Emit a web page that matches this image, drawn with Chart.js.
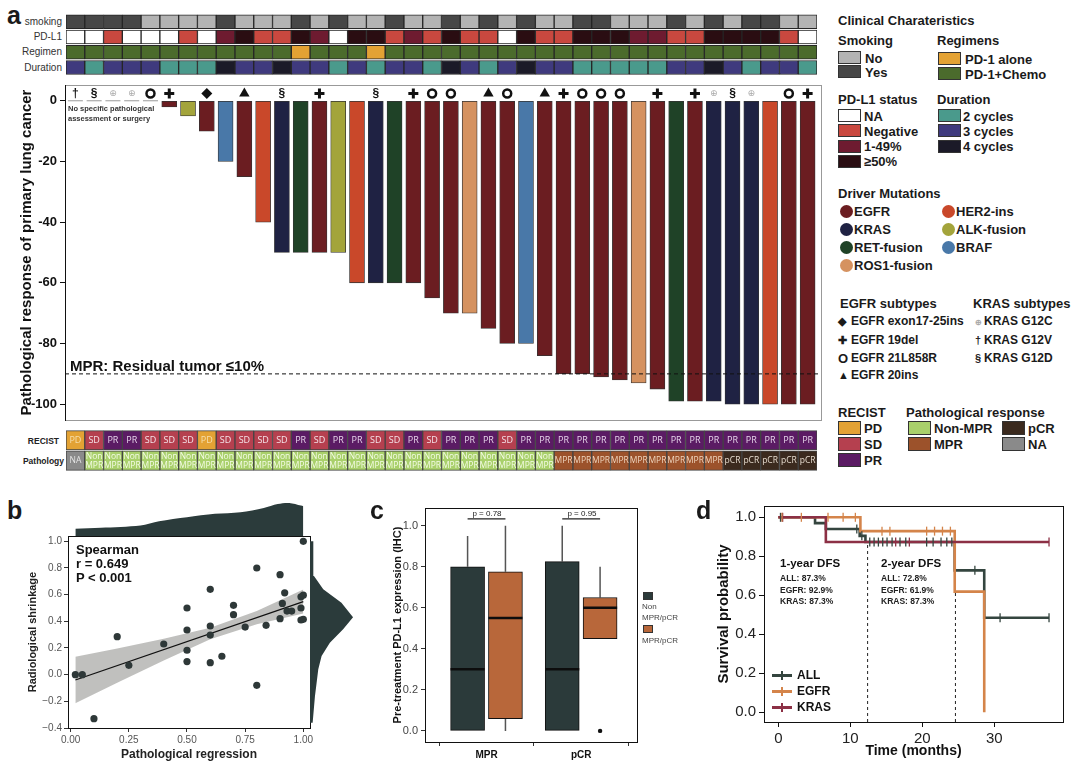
<!DOCTYPE html>
<html>
<head>
<meta charset="utf-8">
<script src="https://cdn.jsdelivr.net/npm/chart.js@4.4.1/dist/chart.umd.min.js"></script>
<style>
  body { margin: 0; width: 1080px; height: 766px; position: relative; overflow: hidden; background: #fff;
         font-family: "Liberation Sans", Arial, sans-serif; }
  canvas { position: absolute; }
  .t { position: absolute; white-space: nowrap; line-height: 1; color: #1a1a1a; }
  .sw { position: absolute; box-sizing: border-box; border: 1.5px solid #333; }
  .box { position: absolute; box-sizing: border-box; border: 1px solid #999; }
</style>
</head>
<body>
<script>
// ---------- panel a : data ----------
const patients = ['P1','P2','P3','P4','P5','P6','P7','P8','P9','P10','P11','P12','P13','P14','P15','P16','P17','P18','P19','P20',
  'P21','P22','P23','P24','P25','P26','P27','P28','P29','P30','P31','P32','P33','P34','P35','P36','P37','P38','P39','P40'];
const smoking = ['Yes','Yes','Yes','Yes','No','No','No','No','Yes','No','No','No','Yes','No','Yes','No','No','Yes',
  'No','No','Yes','No','Yes','No','Yes','No','No','Yes','Yes','No','No','No','Yes','No','Yes','No','Yes','Yes','No','No'];
const pdl1 = ['NA','NA','Neg','NA','NA','NA','Neg','NA','Low','High','Neg','Neg','High','Low','NA','High','High','Neg',
  'Low','Neg','High','Neg','Neg','NA','High','Neg','Neg','High','High','High','Low','Low','Neg','Neg','High','High','High','High','Neg','NA'];
const regimen = ['Chemo','Chemo','Chemo','Chemo','Chemo','Chemo','Chemo','Chemo','Chemo','Chemo','Chemo','Chemo','Alone','Chemo',
  'Chemo','Chemo','Alone','Chemo','Chemo','Chemo','Chemo','Chemo','Chemo','Chemo','Chemo','Chemo','Chemo','Chemo','Chemo','Chemo',
  'Chemo','Chemo','Chemo','Chemo','Chemo','Chemo','Chemo','Chemo','Chemo','Chemo'];
const duration = [3,2,3,3,3,2,2,2,4,3,3,4,3,3,2,3,2,3, 3,2,4,3,2,3,4,3,3,2,2,2,2,2,3,3,4,3,2,3,3,2];
const driver = ['KRAS','KRAS','KRAS','KRAS','EGFR','EGFR','ALK','EGFR','BRAF','EGFR','HER2','KRAS','RET','EGFR','ALK','HER2',
  'KRAS','RET','EGFR','EGFR','EGFR','ROS1','EGFR','EGFR','BRAF','EGFR','EGFR','EGFR','EGFR','EGFR','ROS1','EGFR','RET','EGFR',
  'KRAS','KRAS','KRAS','HER2','EGFR','EGFR'];
const subtype = ['G12V','G12D','G12C','G12C','21L858R','19del','','exon17-25ins','','20ins','','G12D','','19del','','','G12D','',
  '19del','21L858R','21L858R','','20ins','21L858R','','20ins','19del','21L858R','21L858R','21L858R','','19del','','19del',
  'G12C','G12D','G12C','','21L858R','19del'];
const response = [null,null,null,null,null,-2,-5,-10,-20,-25,-40,-50,-50,-50,-50,-60,-60,-60,-60,-65,-70,-70,-75,-80,-80,-84,
  -90,-90,-91,-92,-93,-95,-99,-99,-99,-100,-100,-100,-100,-100];
const recist = ['PD','SD','PR','PR','SD','SD','SD','PD','SD','SD','SD','SD','PR','SD','PR','PR','SD','SD',
  'PR','SD','PR','PR','PR','SD','PR','PR','PR','PR','PR','PR','PR','PR','PR','PR','PR','PR','PR','PR','PR','PR'];
const pathology = ['NA','Non-MPR','Non-MPR','Non-MPR','Non-MPR','Non-MPR','Non-MPR','Non-MPR','Non-MPR','Non-MPR','Non-MPR',
  'Non-MPR','Non-MPR','Non-MPR','Non-MPR','Non-MPR','Non-MPR','Non-MPR','Non-MPR','Non-MPR','Non-MPR','Non-MPR','Non-MPR',
  'Non-MPR','Non-MPR','Non-MPR','MPR','MPR','MPR','MPR','MPR','MPR','MPR','MPR','MPR','pCR','pCR','pCR','pCR','pCR'];
const respTicks = [0, -20, -40, -60, -80, -100];
const mprCut = -90;

// ---------- panel b : data ----------
const pathReg = [0.02,0.05,0.10,0.20,0.25,0.40,0.50,0.50,0.50,0.50,0.60,0.60,0.60,0.60,0.65,0.70,0.70,0.75,0.80,0.80,0.84,
  0.90,0.90,0.91,0.92,0.93,0.95,0.99,0.99,1.00,1.00,0.99,1.00];
const radShrink = [0.00,0.00,-0.33,0.285,0.07,0.23,0.50,0.335,0.183,0.098,0.64,0.365,0.297,0.09,0.138,0.52,0.45,0.357,0.80,
  -0.08,0.37,0.75,0.42,0.534,0.614,0.477,0.477,0.50,0.584,0.596,1.00,0.41,0.415];
const fitX = [0.02, 1.0];
const fitY = [-0.04, 0.548];
const bandX = [0.02, 0.2, 0.4, 0.6, 0.8, 1.0];
const bandHi = [0.135, 0.196, 0.269, 0.351, 0.478, 0.638];
const bandLo = [-0.215, -0.06, 0.107, 0.265, 0.378, 0.458];
const topDensX = [0.02,0.13,0.30,0.38,0.50,0.62,0.73,0.83,0.89,0.94,0.99,1.0];
const topDens = [22,25,32,45,57,67,72,85,97,100,92,90];
const sideDensY = [-0.36,-0.16,-0.06,0.04,0.14,0.24,0.34,0.43,0.54,0.64,0.74,0.9,1.0];
const sideDens = [8,15,20,25,35,60,100,130,95,40,12,10,10];
const bTicksX = [0, 0.25, 0.5, 0.75, 1];
const bTicksY = [-0.4, -0.2, 0, 0.2, 0.4, 0.6, 0.8, 1.0];

// ---------- panel c : data ----------
const boxGroups = ['MPR', 'pCR'];
// min, q1, median, q3, max
const nonStats = [[0, 0, 0.30, 0.80, 0.95], [0, 0, 0.30, 0.825, 1.0]];
const respStats = [[0, 0.06, 0.55, 0.775, 1.0], [0.45, 0.45, 0.60, 0.65, 0.80]];
const respOutliers = [[], [0.0]];
const cTicks = [0, 0.2, 0.4, 0.6, 0.8, 1.0];

// ---------- panel d : data ----------
const allT = [0, 5.1, 6.6, 11.3, 12.1, 24.5, 28.6, 37.6];
const allS = [1, 0.97, 0.94, 0.905, 0.873, 0.728, 0.485, 0.485];
const egfrT = [0, 11.4, 24.5, 28.6];
const egfrS = [1, 0.929, 0.619, 0];
const krasT = [0, 6.6, 37.6];
const krasS = [1, 0.873, 0.873];
const allCensT = [0.3, 10.9, 11.6, 12.7, 13.3, 13.9, 14.5, 15.1, 15.8, 16.9, 17.7, 20.6, 21.5, 22.6, 23.4, 24.1, 27.3, 30.8, 37.6];
const allCensS = [1, 0.94, 0.905, 0.873, 0.873, 0.873, 0.873, 0.873, 0.873, 0.873, 0.873, 0.873, 0.873, 0.873, 0.873, 0.873, 0.728, 0.485, 0.485];
const egfrCensT = [0.5, 3.2, 6.9, 9.0, 10.7, 14.4, 15.5, 20.6, 21.7, 22.8, 23.9];
const egfrCensS = [1, 1, 1, 1, 1, 0.929, 0.929, 0.929, 0.929, 0.929, 0.929];
const krasCensT = [0.6, 16.3, 18.2, 37.6];
const krasCensS = [1, 0.873, 0.873, 0.873];
const dfsMarks = [12.4, 24.6];
const dfsMarkTop = [0.873, 0.93];
const dTicksX = [0, 10, 20, 30];
const dTicksY = [0, 0.2, 0.4, 0.6, 0.8, 1.0];

// ---------- colours ----------
const smokeCol = { Yes: '#474747', No: '#b3b3b3' };
const pdl1Col = { NA: '#ffffff', Neg: '#c9483f', Low: '#6e1b30', High: '#2a0d12' };
const regCol = { Alone: '#e3a234', Chemo: '#4b6b2c' };
const durCol = { 2: '#4a9a8c', 3: '#3f3a7e', 4: '#1b1a28' };
const drvCol = { EGFR: '#6b1d21', KRAS: '#1f2243', RET: '#1f4227', HER2: '#c9482a', ALK: '#a3a43b', BRAF: '#4978a8', ROS1: '#d59260' };
const recCol = { PD: '#e3a234', SD: '#b5404f', PR: '#5b1b64' };
const pathCol = { 'Non-MPR': '#a9d06b', MPR: '#9c522b', pCR: '#3b2a1e', NA: '#8a8a8a' };
const boxNon = '#2b3a3a', boxResp = '#b8673a';
const kmAll = '#34453f', kmEgfr = '#d4844a', kmKras = '#8c3045';

Chart.defaults.font.family = '"Liberation Sans", Arial, sans-serif';
Chart.defaults.animation = false;
Chart.defaults.responsive = false;
Chart.defaults.layout.autoPadding = false;
Chart.defaults.plugins.legend.display = false;
Chart.defaults.plugins.tooltip.enabled = false;

// ---------- helpers ----------
function cv(x, y, w, h) {
  const c = document.createElement('canvas');
  c.width = w; c.height = h;
  c.style.left = x + 'px'; c.style.top = y + 'px';
  document.body.appendChild(c);
  return c;
}
function txt(s, x, y, size, o = {}) {
  const d = document.createElement('div');
  d.className = 't';
  d.innerHTML = s;
  d.style.left = x + 'px'; d.style.top = y + 'px';
  d.style.fontSize = size + 'px';
  d.style.fontWeight = o.w || 'bold';
  if (o.c) d.style.color = o.c;
  d.style.transform = o.right ? 'translate(-100%,-50%)' : (o.center ? 'translate(-50%,-50%)' : 'translateY(-50%)');
  document.body.appendChild(d);
  return d;
}
function sw(x, y, w, h, col, round) {
  const d = document.createElement('div');
  d.className = 'sw';
  Object.assign(d.style, { left: x + 'px', top: y + 'px', width: w + 'px', height: h + 'px', background: col });
  if (round) { d.style.borderRadius = '50%'; d.style.border = 'none'; }
  document.body.appendChild(d);
  return d;
}
// pin axis sizes so every chart area lands exactly where the reference has it
const fixW = w => s => { s.width = w; s.paddingTop = 0; s.paddingBottom = 0; };
const fixH = h => s => { s.height = h; s.paddingLeft = 0; s.paddingRight = 0; };
const setTicks = vals => s => { s.ticks = vals.map(v => ({ value: v })); };
const pts = (xs, ys) => xs.map((x, i) => ({ x, y: ys[i] }));
const frameAxes = {
  x2: { type: 'linear', axis: 'x', position: 'top', afterFit: fixH(0), ticks: { display: false }, grid: { display: false }, border: { color: '#111' } },
  y2: { type: 'linear', axis: 'y', position: 'right', afterFit: fixW(0), ticks: { display: false }, grid: { display: false }, border: { color: '#111' } }
};

// text written inside floating-bar cells, positioned through the chart's scales
const cellTextPlugin = {
  id: 'cellText',
  afterDatasetsDraw(chart) {
    const { ctx, scales: { x, y } } = chart;
    chart.data.datasets.forEach(ds => {
      if (!ds.cellText) return;
      ctx.save();
      ctx.font = ds.cellFont; ctx.textAlign = 'center'; ctx.textBaseline = 'middle';
      ds.cellText.forEach((t, i) => {
        const lines = t.split('\n');
        const cx = x.getPixelForValue(i);
        const cy = y.getPixelForValue((ds.data[i][0] + ds.data[i][1]) / 2);
        ctx.fillStyle = ds.cellColor[i];
        lines.forEach((ln, k) => ctx.fillText(ln, cx, cy + (k - (lines.length - 1) / 2) * 9));
      });
      ctx.restore();
    });
  }
};

// ================= PANEL A =================
txt('a', 7, 15, 25);

// heatmap rows
const hmRows = [smoking.map(v => smokeCol[v]), pdl1.map(v => pdl1Col[v]), regimen.map(v => regCol[v]), duration.map(v => durCol[v])];
['smoking', 'PD-L1', 'Regimen', 'Duration'].forEach((l, r) => txt(l, 62, 22 + r * 15.2, 10, { right: true, w: 'normal', c: '#333' }));
new Chart(cv(66, 14, 751, 61), {
  type: 'bar',
  data: {
    labels: patients,
    datasets: hmRows.map((cols, r) => ({
      data: cols.map(() => [r + 0.05, r + 0.97]), backgroundColor: cols, borderColor: '#262626', borderWidth: 1,
      borderSkipped: false, grouped: false, barPercentage: 1, categoryPercentage: 1
    }))
  },
  options: { layout: { padding: 0 }, scales: { x: { display: false }, y: { display: false, min: 0, max: 4, reverse: true } } }
});

// waterfall
const barPts = [], barCols = [];
response.forEach((v, i) => { if (v !== null) { barPts.push({ x: i, y: v }); barCols.push(drvCol[driver[i]]); } });
const shapeOf = { '19del': 'cross', '21L858R': 'circle', '20ins': 'triangle', 'exon17-25ins': 'rectRot' };
const glyphOf = { G12V: '†', G12D: '§', G12C: '⊕' };
const symPts = [], symStyle = [], symRad = [], symBg = [], symBw = [];
subtype.forEach((s, i) => {
  if (!shapeOf[s]) return;
  symPts.push({ x: i, y: 2.4 });
  symStyle.push(shapeOf[s]);
  symRad.push({ cross: 5, circle: 4, triangle: 6, rectRot: 5.5 }[shapeOf[s]]);
  symBg.push(shapeOf[s] === 'circle' ? '#fff' : '#111');
  symBw.push({ cross: 3, circle: 2.5, triangle: 0, rectRot: 0 }[shapeOf[s]]);
});
const noSurgery = response.map((v, i) => v === null ? { x: i, y: 0 } : null).filter(p => p);
const glyphPlugin = {
  id: 'glyphs',
  afterDatasetsDraw(chart) {
    const { ctx, scales: { x, y } } = chart;
    ctx.save(); ctx.textAlign = 'center'; ctx.textBaseline = 'middle';
    subtype.forEach((s, i) => {
      const g = glyphOf[s];
      if (!g) return;
      ctx.font = g === '⊕' ? '9px "DejaVu Sans"' : 'bold 12px "Liberation Sans"';
      ctx.fillStyle = g === '⊕' ? '#aaa' : '#111';
      ctx.fillText(g, x.getPixelForValue(i), y.getPixelForValue(2.4));
    });
    ctx.restore();
  }
};
const box = document.createElement('div');
box.className = 'box';
Object.assign(box.style, { left: '65px', top: '85px', width: '757px', height: '336px' });
document.body.appendChild(box);
new Chart(cv(0, 80, 830, 345), {
  type: 'bar',
  data: {
    datasets: [
      { type: 'scatter', data: symPts, pointStyle: symStyle, pointRadius: symRad, pointBackgroundColor: symBg,
        pointBorderColor: '#111', pointBorderWidth: symBw },
      { type: 'scatter', data: noSurgery, pointStyle: 'line', pointRadius: 7.5, pointBorderColor: '#999', pointBorderWidth: 1 },
      { type: 'line', data: [{ x: -0.553, y: mprCut }, { x: 39.713, y: mprCut }], borderColor: '#111', borderWidth: 1,
        borderDash: [4, 3], pointRadius: 0 },
      { type: 'bar', data: barPts, backgroundColor: barCols, borderColor: '#333', borderWidth: 0.8, borderSkipped: false,
        barThickness: 15 }
    ]
  },
  options: {
    layout: { padding: { top: 5, right: 9, bottom: 5, left: 0 } },
    scales: {
      x: { type: 'linear', display: false, offset: false, min: -0.553, max: 39.713 },
      y: {
        min: -105.2, max: 5.2, afterFit: fixW(65), afterBuildTicks: setTicks(respTicks),
        ticks: { font: { size: 13, weight: 'bold' }, color: '#111', padding: 3 },
        grid: { drawOnChartArea: false, tickLength: 5, color: '#111' },
        border: { color: '#111' },
        title: { display: true, text: 'Pathological response of primary lung cancer', color: '#111',
          font: { size: 15, weight: 'bold' }, padding: { top: 18, bottom: 0 } }
      }
    }
  },
  plugins: [glyphPlugin]
});
txt('No specific pathological', 68, 109, 7.5, { c: '#333' });
txt('assessment or surgery', 68, 119, 7.5, { c: '#333' });
txt('MPR: Residual tumor ≤10%', 70, 365, 15, { c: '#111' });

// RECIST / pathology rows
txt('RECIST', 59, 440.5, 8.5, { right: true, c: '#222' });
txt('Pathology', 64, 460.5, 8.5, { right: true, c: '#222' });
const recTextCol = { PD: '#f6dfae', SD: '#f6e4ea', PR: '#e6d4ea' };
const pathTextCol = { 'Non-MPR': '#f4fbe6', MPR: '#f0d6bf', pCR: '#e6dccf', NA: '#e4e4e4' };
new Chart(cv(66, 430, 751, 41), {
  type: 'bar',
  data: {
    labels: patients,
    datasets: [
      { data: recist.map(() => [0.03, 0.97]), backgroundColor: recist.map(v => recCol[v]), cellText: recist,
        cellColor: recist.map(v => recTextCol[v]), cellFont: '9px "Open Sans"' },
      { data: pathology.map(() => [1.02, 1.97]), backgroundColor: pathology.map(v => pathCol[v]),
        cellText: pathology.map(v => v === 'Non-MPR' ? 'Non\nMPR' : v), cellColor: pathology.map(v => pathTextCol[v]),
        cellFont: '8.5px "Open Sans"' }
    ].map(d => Object.assign(d, { borderColor: '#444', borderWidth: 1, borderSkipped: false, grouped: false,
      barPercentage: 1, categoryPercentage: 1 }))
  },
  options: { layout: { padding: 0 }, scales: { x: { display: false }, y: { display: false, min: 0, max: 2, reverse: true } } },
  plugins: [cellTextPlugin]
});

// legend column
const LX = 838, LX2 = 937;
txt('Clinical Charateristics', LX, 20, 13);
txt('Smoking', LX, 40, 13);
sw(LX, 51, 23, 13, smokeCol.No); txt('No', LX + 27, 57.5, 13);
sw(LX, 65, 23, 13, smokeCol.Yes); txt('Yes', LX + 27, 71.5, 13);
txt('Regimens', LX2, 40, 13);
sw(LX2 + 1, 52, 23, 13, regCol.Alone); txt('PD-1 alone', LX2 + 28, 58.5, 13);
sw(LX2 + 1, 67, 23, 13, regCol.Chemo); txt('PD-1+Chemo', LX2 + 28, 73.5, 13);
txt('PD-L1 status', LX, 99, 13);
[['NA', 'NA'], ['Negative', 'Neg'], ['1-49%', 'Low'], ['≥50%', 'High']].forEach(([l, k], i) => {
  sw(LX, 109 + i * 15.3, 23, 13, pdl1Col[k]); txt(l, LX + 26, 115.5 + i * 15.3, 13);
});
txt('Duration', LX2, 99, 13);
['2 cycles', '3 cycles', '4 cycles'].forEach((l, i) => {
  sw(LX2 + 1, 109 + i * 15.3, 23, 13, durCol[i + 2]); txt(l, LX2 + 26, 115.5 + i * 15.3, 13);
});
txt('Driver Mutations', LX, 193, 13);
[['EGFR', LX, 211], ['HER2-ins', 940, 211], ['KRAS', LX, 229], ['ALK-fusion', 940, 229], ['RET-fusion', LX, 247],
 ['BRAF', 940, 247], ['ROS1-fusion', LX, 265]].forEach(([l, x, y]) => {
  const k = l.split('-')[0];
  sw(x + 2, y - 6.5, 13, 13, drvCol[k], true); txt(l, x + 16, y, 13);
});
txt('EGFR subtypes', LX + 2, 303, 13);
txt('KRAS subtypes', 973, 303, 13);
[['◆', 'EGFR exon17-25ins', 321], ['✚', 'EGFR 19del', 340], ['<b style="font-size:13px">O</b>', 'EGFR 21L858R', 358],
 ['▲', 'EGFR 20ins', 375]].forEach(([g, l, y]) => { txt(g, LX, y, 11); txt(l, LX + 13, y, 12); });
[['<span style="color:#aaa;font-size:8px">⊕</span>', 'KRAS G12C', 321], ['†', 'KRAS G12V', 340], ['§', 'KRAS G12D', 358]]
  .forEach(([g, l, y]) => { txt(g, 975, y, 11); txt(l, 984, y, 12); });
txt('RECIST', LX, 412, 13);
[['PD', 428], ['SD', 444], ['PR', 460]].forEach(([l, y]) => { sw(LX, y - 7, 23, 14, recCol[l]); txt(l, LX + 26, y, 13); });
txt('Pathological response', 906, 412, 13);
sw(908, 421, 23, 14, pathCol['Non-MPR']); txt('Non-MPR', 934, 428, 13);
sw(908, 437, 23, 14, pathCol.MPR); txt('MPR', 934, 444, 13);
sw(1002, 421, 23, 14, pathCol.pCR); txt('pCR', 1028, 428, 13);
sw(1002, 437, 23, 14, pathCol.NA); txt('NA', 1028, 444, 13);

// ================= PANEL B =================
txt('b', 7, 510, 25);
new Chart(cv(0, 526, 330, 240), {
  type: 'scatter',
  data: {
    datasets: [
      { data: pts(pathReg, radShrink), pointRadius: 3.6, pointBackgroundColor: '#2e3838', pointBorderWidth: 0 },
      { type: 'line', data: pts(fitX, fitY), borderColor: '#111', borderWidth: 1.3, pointRadius: 0 },
      { type: 'line', data: pts(bandX, bandHi), borderWidth: 0, pointRadius: 0, fill: '+1', backgroundColor: 'rgba(150,150,146,0.6)' },
      { type: 'line', data: pts(bandX, bandLo), borderWidth: 0, pointRadius: 0 }
    ]
  },
  options: {
    layout: { padding: { top: 10, right: 20, bottom: 0, left: 0 } },
    scales: {
      x: { type: 'linear', min: -0.0116, max: 1.0288, afterFit: fixH(38), afterBuildTicks: setTicks(bTicksX),
        ticks: { callback: v => v.toFixed(2), font: { size: 10 }, color: '#555', padding: 2 },
        grid: { drawOnChartArea: false, tickLength: 4, color: '#333' }, border: { color: '#111' },
        title: { display: true, text: 'Pathological regression', color: '#222', font: { size: 12, weight: 'bold' }, padding: { top: 0, bottom: 4 } } },
      y: { min: -0.4, max: 1.04, afterFit: fixW(68), afterBuildTicks: setTicks(bTicksY),
        ticks: { callback: v => v.toFixed(1).replace('-', '−'), font: { size: 10 }, color: '#555', padding: 2 },
        grid: { drawOnChartArea: false, tickLength: 4, color: '#333' }, border: { color: '#111' },
        title: { display: true, text: 'Radiological shrinkage', color: '#222', font: { size: 11, weight: 'bold' }, padding: { top: 26, bottom: 0 } } },
      ...frameAxes
    }
  }
});
new Chart(cv(68, 500, 242, 36), {
  type: 'line',
  data: { datasets: [{ data: pts(topDensX, topDens), fill: 'origin', backgroundColor: '#2b3b3b', borderWidth: 0, pointRadius: 0, tension: 0.3 }] },
  options: { layout: { padding: 0 }, scales: { x: { type: 'linear', display: false, min: -0.0116, max: 1.0288 }, y: { display: false, min: 0, max: 109 } } }
});
const sideShape = [{ x: 0, y: sideDensY[0] }, ...pts(sideDens, sideDensY), { x: 0, y: sideDensY[sideDensY.length - 1] }];
new Chart(cv(310, 536, 50, 192), {
  type: 'line',
  data: { datasets: [{ data: sideShape, fill: 'shape', backgroundColor: '#2b3b3b', borderWidth: 0, pointRadius: 0 }] },
  options: { layout: { padding: 0 }, scales: { x: { type: 'linear', display: false, min: 0, max: 151 }, y: { display: false, min: -0.4, max: 1.04 } } }
});
txt('Spearman', 76, 549, 13, { c: '#111' });
txt('r = 0.649', 76, 563, 13, { c: '#111' });
txt('P &lt; 0.001', 76, 577, 13, { c: '#111' });

// ================= PANEL C =================
txt('c', 370, 510, 25);
const off = 0.2, half = 0.18;
const seg = list => list.flatMap(([x1, y1, x2, y2]) => [{ x: x1, y: y1 }, { x: x2, y: y2 }, { x: x2, y: null }]);
function boxSets(stats, dx, col) {
  return [
    { type: 'line', data: seg(stats.map((s, g) => [g + 1 + dx - half, s[2], g + 1 + dx + half, s[2]])), borderColor: '#0d0d0d',
      borderWidth: 2.5, pointRadius: 0, spanGaps: false },
    { type: 'bar', data: stats.map((s, g) => ({ x: g + 1 + dx, y: [s[1], s[3]] })), backgroundColor: col, borderColor: '#111',
      borderWidth: 1, borderSkipped: false, grouped: false, barThickness: 34 },
    { type: 'line', data: seg(stats.flatMap((s, g) => [[g + 1 + dx, s[3], g + 1 + dx, s[4]], [g + 1 + dx, s[0], g + 1 + dx, s[1]]])),
      borderColor: '#555', borderWidth: 1.5, pointRadius: 0, spanGaps: false }
  ];
}
new Chart(cv(360, 500, 285, 266), {
  type: 'bar',
  data: {
    datasets: [
      { type: 'scatter', data: respOutliers.flatMap((o, g) => o.map(v => ({ x: g + 1 + off, y: v }))), pointRadius: 2.2,
        pointBackgroundColor: '#111', pointBorderWidth: 0 },
      { type: 'line', data: seg(boxGroups.map((b, g) => [g + 1 - off, 1.033, g + 1 + off, 1.033])), borderColor: '#222',
        borderWidth: 1.2, pointRadius: 0, spanGaps: false },
      ...boxSets(nonStats, -off, boxNon),
      ...boxSets(respStats, off, boxResp)
    ]
  },
  options: {
    layout: { padding: { top: 8, right: 8, bottom: 0, left: 0 } },
    scales: {
      x: { type: 'linear', offset: false, min: 0.35, max: 2.59, afterFit: fixH(24), afterBuildTicks: setTicks([1, 2]),
        ticks: { callback: v => boxGroups[v - 1], font: { size: 10, weight: 'bold' }, color: '#111', padding: 3 },
        grid: { drawOnChartArea: false, tickLength: 4, color: '#333' }, border: { color: '#111' } },
      y: { min: -0.054, max: 1.086, afterFit: fixW(65), afterBuildTicks: setTicks(cTicks),
        ticks: { callback: v => v.toFixed(1), font: { size: 11 }, color: '#444', padding: 3 },
        grid: { drawOnChartArea: false, tickLength: 4, color: '#333' }, border: { color: '#111' },
        title: { display: true, text: 'Pre-treatment PD-L1 expression (IHC)', color: '#111', font: { size: 11, weight: 'bold' },
          padding: { top: 31, bottom: 0 } } },
      ...frameAxes
    }
  }
});
txt('p = 0.78', 487, 514, 8, { center: true, w: 'normal', c: '#222' });
txt('p = 0.95', 582, 514, 8, { center: true, w: 'normal', c: '#222' });
sw(643, 592, 10, 8, boxNon); txt('Non', 642, 607, 8, { w: 'normal', c: '#444' });
txt('MPR/pCR', 642, 618, 8, { w: 'normal', c: '#444' });
sw(643, 625, 10, 8, boxResp); txt('MPR/pCR', 642, 641, 8, { w: 'normal', c: '#444' });

// ================= PANEL D =================
txt('d', 696, 510, 25);
const censor = (xs, ys, col) => ({ type: 'scatter', data: pts(xs, ys), pointStyle: 'line', rotation: 90, pointRadius: 4.5,
  pointBorderColor: col, pointBorderWidth: 1.3 });
// 'before' in Chart.js = run flat to the next time, then drop (Kaplan-Meier step)
const km = (xs, ys, col) => ({ type: 'line', data: pts(xs, ys), stepped: 'before', borderColor: col, borderWidth: 2.6, pointRadius: 0 });
new Chart(cv(700, 496, 380, 270), {
  type: 'line',
  data: {
    datasets: [
      censor(allCensT, allCensS, kmAll),
      censor(egfrCensT, egfrCensS, kmEgfr),
      censor(krasCensT, krasCensS, kmKras),
      km(krasT, krasS, kmKras),
      km(egfrT, egfrS, kmEgfr),
      km(allT, allS, kmAll),
      ...dfsMarks.map((m, i) => ({ type: 'line', data: [{ x: m, y: -0.05 }, { x: m, y: dfsMarkTop[i] }], borderColor: '#222',
        borderWidth: 1, borderDash: [3, 3], pointRadius: 0 }))
    ]
  },
  options: {
    layout: { padding: { top: 10, right: 17, bottom: 0, left: 0 } },
    scales: {
      x: { type: 'linear', min: -1.99, max: 39.54, afterFit: fixH(44), afterBuildTicks: setTicks(dTicksX),
        ticks: { font: { size: 15 }, color: '#222', padding: 3 },
        grid: { drawOnChartArea: false, tickLength: 5, color: '#111' }, border: { color: '#111' },
        title: { display: true, text: 'Time (months)', color: '#111', font: { size: 14, weight: 'bold' }, padding: { top: 0, bottom: 6 } } },
      y: { min: -0.05, max: 1.058, afterFit: fixW(64), afterBuildTicks: setTicks(dTicksY),
        ticks: { callback: v => v.toFixed(1), font: { size: 15 }, color: '#222', padding: 3 },
        grid: { drawOnChartArea: false, tickLength: 5, color: '#111' }, border: { color: '#111' },
        title: { display: true, text: 'Survival probability', color: '#111', font: { size: 15, weight: 'bold' }, padding: { top: 15, bottom: 0 } } },
      ...frameAxes
    }
  }
});
txt('1-year DFS', 780, 564, 11.5, { c: '#111' });
txt('ALL: 87.3%', 780, 578, 8.5, { c: '#222' });
txt('EGFR: 92.9%', 780, 589.5, 8.5, { c: '#222' });
txt('KRAS: 87.3%', 780, 601, 8.5, { c: '#222' });
txt('2-year DFS', 881, 564, 11.5, { c: '#111' });
txt('ALL: 72.8%', 881, 578, 8.5, { c: '#222' });
txt('EGFR: 61.9%', 881, 589.5, 8.5, { c: '#222' });
txt('KRAS: 87.3%', 881, 601, 8.5, { c: '#222' });
[['ALL', kmAll, 675], ['EGFR', kmEgfr, 691], ['KRAS', kmKras, 707]].forEach(([l, col, y]) => {
  const ln = document.createElement('div');
  Object.assign(ln.style, { position: 'absolute', left: '772px', top: (y - 1.5) + 'px', width: '20px', height: '3px', background: col });
  document.body.appendChild(ln);
  const tk = document.createElement('div');
  Object.assign(tk.style, { position: 'absolute', left: '781px', top: (y - 4.5) + 'px', width: '1.5px', height: '9px', background: col });
  document.body.appendChild(tk);
  txt(l, 797, y, 12, { c: '#111' });
});
</script>
</body>
</html>
